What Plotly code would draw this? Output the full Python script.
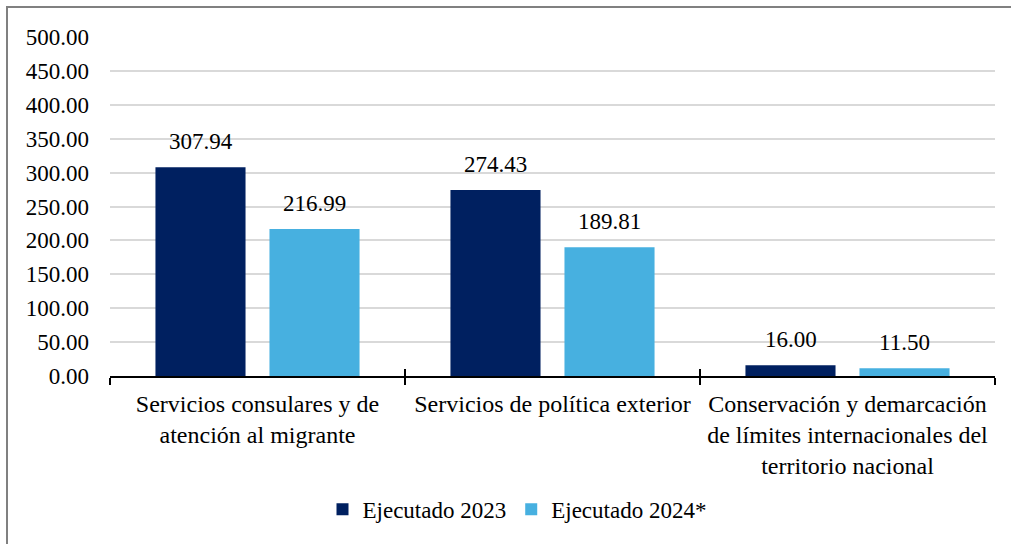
import plotly.graph_objects as go

# Categories and executed budget values
categorias = [
    "Servicios consulares y de<br>atención al migrante",
    "Servicios de política exterior",
    "Conservación y demarcación<br>de límites internacionales del<br>territorio nacional",
]
ejecutado_2023 = [307.94, 274.43, 16.00]
ejecutado_2024 = [216.99, 189.81, 11.50]
serie_nombres = ["Ejecutado 2023", "Ejecutado 2024*"]
y_ticks = [0, 50, 100, 150, 200, 250, 300, 350, 400, 450, 500]

FONT = "Liberation Serif"
COLOR_2023 = "#002060"
COLOR_2024 = "#47B0E0"

fig = go.Figure()
for nombre, valores, color in [
    (serie_nombres[0], ejecutado_2023, COLOR_2023),
    (serie_nombres[1], ejecutado_2024, COLOR_2024),
]:
    fig.add_trace(go.Bar(
        x=categorias, y=valores, name=nombre,
        marker=dict(color=color, line=dict(width=0)),
        hoverinfo="x+y+name",
    ))

# Invisible helper trace so the overlay axis can draw inward boundary ticks
fig.add_trace(go.Scatter(
    x=categorias, y=[0] * len(categorias), xaxis="x2", mode="markers",
    marker=dict(opacity=0), showlegend=False, hoverinfo="skip",
))

# Value labels above each bar
slot_shift = 57
for valores, shift in [(ejecutado_2023, -slot_shift), (ejecutado_2024, slot_shift)]:
    for cat, v in zip(categorias, valores):
        fig.add_annotation(
            x=cat, y=v, xref="x", yref="y", text=f"{v:.2f}",
            showarrow=False, xshift=shift, yanchor="bottom", yshift=11,
            font=dict(family=FONT, size=23, color="black"),
        )

# Outer frame of the chart
plot_w, plot_h = 885, 339
fig.add_shape(
    type="rect", xref="paper", yref="paper",
    x0=(7 - 110) / plot_w, x1=(1030 - 110) / plot_w,
    y0=-(570 - 376) / plot_h, y1=1 + (37 - 7) / plot_h,
    line=dict(color="#808080", width=2), fillcolor="rgba(0,0,0,0)", layer="below",
)

fig.update_layout(
    width=1011, height=544,
    margin=dict(l=110, r=16, t=37, b=168),
    paper_bgcolor="white", plot_bgcolor="white",
    font=dict(family=FONT, size=23, color="black"),
    barmode="group", bargap=0.227, bargroupgap=0.21,
    showlegend=True,
    legend=dict(
        orientation="h", x=(517 - 110) / plot_w, xanchor="center",
        y=-0.393, yanchor="middle",
        font=dict(family=FONT, size=23, color="black"),
        itemwidth=30, tracegroupgap=0,
    ),
    xaxis=dict(
        type="category", tickson="boundaries", ticks="outside", ticklen=7,
        tickwidth=1.5, tickcolor="black", showline=True, linecolor="black",
        linewidth=1.5, showgrid=False, ticklabelstandoff=5,
        tickfont=dict(family=FONT, size=24, color="black"),
    ),
    xaxis2=dict(
        type="category", overlaying="x", matches="x", tickson="boundaries",
        ticks="inside", ticklen=7, tickwidth=1.5, tickcolor="black",
        showticklabels=False, showline=False, showgrid=False, side="bottom",
    ),
    yaxis=dict(
        range=[0, 500], tickvals=y_ticks, tickformat=".2f",
        showgrid=True, gridcolor="#D9D9D9", gridwidth=1.5,
        zeroline=False, showline=False, ticks="", ticklabelstandoff=20,
        tickfont=dict(family=FONT, size=23, color="black"),
    ),
)

fig.write_html("out.html")
